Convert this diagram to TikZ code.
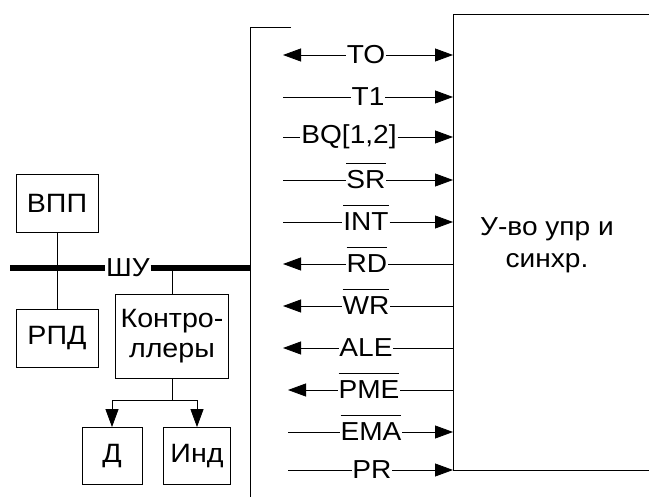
\documentclass[tikz,border=0pt]{standalone}
\usepackage{fontspec}
\setmainfont[FakeStretch=1.08]{Liberation Sans}
\usetikzlibrary{positioning, arrows.meta}
\newcommand\ovl[1]{\setbox0\hbox{#1}\rlap{\smash{\rule[25pt]{\wd0}{1.2pt}}}\box0}

\begin{document}
\begin{tikzpicture}[x=1pt, y=-1pt, line width=0.8pt,
    b/.style={draw, minimum width=82pt, minimum height=58pt, inner sep=1pt, align=center, font=\fontsize{26.5}{30}\selectfont},
    s/.style={fill=white, inner sep=0.5pt, font=\fontsize{26}{28}\selectfont},
    a/.style={-{Triangle[length=18pt, width=13pt]}}]
  \useasboundingbox (0,0) rectangle (649,497);
  % blocks on the bus
  \node[b] (vpp) at (57,203) {ВПП};
  \node[b] (rpd) at (57,338) {РПД};
  \node[b, minimum width=113pt, minimum height=84pt] (ctl) at (172,336) {Контро-\\ллеры};
  \node[b, minimum width=60pt, minimum height=57pt] (d) at (112,456) {Д};
  \node[b, minimum width=67pt, minimum height=57pt] (ind) at (197,456) {Инд};
  % bus
  \coordinate (bl) at (10,268);
  \coordinate (br) at (250,268);
  \node[s] (shu) at (128,268) {ШУ};
  \draw[line width=6.5pt] (bl) -- (shu) -- (br);
  \draw (vpp) -- (rpd);
  \draw (ctl.north) -- (ctl.north |- br);
  \coordinate (fork) at (172,400);
  \draw (ctl.south) -- (fork);
  \draw[a] (fork) -| (d.north);
  \draw[a] (fork) -| (ind.north);
  % frame and control unit
  \draw (291,27) -| (250,497);
  \draw (649,14) -| (453,470) -- (649,470);
  \node[font=\fontsize{26}{32}\selectfont, align=center] (uu) at (547,245) {У-во упр и\\синхр.};
  % signals
  \coordinate (la) at (283,0);
  \coordinate (lb) at (288,0);
  \coordinate (ra) at (453,0);
  \node[s] (TO) at (366,55) {TO};
  \node[s] (T1) at (368,97) {T1};
  \node[s] (BQ) at (349,137) {BQ[1,2]};
  \node[s] (SR) at (366,180) {\ovl{SR}};
  \node[s] (INT) at (366,222) {\ovl{INT}};
  \node[s] (RD) at (367,264) {\ovl{RD}};
  \node[s] (WR) at (366,306) {\ovl{WR}};
  \node[s] (ALE) at (366,348) {ALE};
  \node[s] (PME) at (369,390) {\ovl{PME}};
  \node[s] (EMA) at (371,432) {\ovl{EMA}};
  \node[s] (PR) at (372,470) {PR};
  \draw[a] (TO) -- (TO -| la);
  \draw[a] (TO) -- (TO -| ra);
  \draw[a] (T1 -| la) -- (T1) (T1) -- (T1 -| ra);
  \draw[a] (BQ -| la) -- (BQ) (BQ) -- (BQ -| ra);
  \draw[a] (SR -| la) -- (SR) (SR) -- (SR -| ra);
  \draw[a] (INT -| la) -- (INT) (INT) -- (INT -| ra);
  \draw[a] (RD -| ra) -- (RD) (RD) -- (RD -| la);
  \draw[a] (WR -| ra) -- (WR) (WR) -- (WR -| la);
  \draw[a] (ALE -| ra) -- (ALE) (ALE) -- (ALE -| la);
  \draw[a] (PME -| ra) -- (PME) (PME) -- (PME -| lb);
  \draw[a] (EMA -| lb) -- (EMA) (EMA) -- (EMA -| ra);
  \draw[a] (PR -| lb) -- (PR) (PR) -- (PR -| ra);
\end{tikzpicture}
\end{document}
